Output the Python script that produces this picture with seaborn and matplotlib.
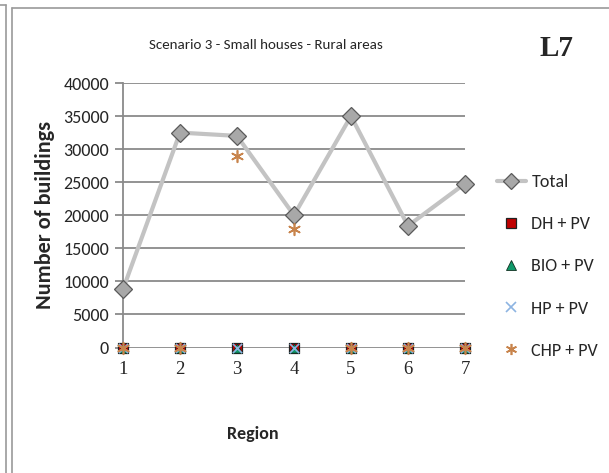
import matplotlib
matplotlib.use("Agg")
import matplotlib.pyplot as plt
from matplotlib.lines import Line2D
import pandas as pd
import seaborn as sns

regions = [1, 2, 3, 4, 5, 6, 7]
total = [8800, 32500, 32000, 20000, 35000, 18400, 24800]
dh_pv = [0, 0, 0, 0, 0, 0, 0]
bio_pv = [0, 0, 0, 0, 0, 0, 0]
hp_pv = [0, 0, 0, 0, 0, 0, 0]
chp_pv = [0, 0, 29000, 17900, 0, 0, 0]
y_ticks = [0, 5000, 10000, 15000, 20000, 25000, 30000, 35000, 40000]

series_names = ["Total", "DH + PV", "BIO + PV", "HP + PV", "CHP + PV"]
df = pd.DataFrame({
    "Region": regions * 5,
    "Buildings": total + dh_pv + bio_pv + hp_pv + chp_pv,
    "Series": sum([[s] * len(regions) for s in series_names], []),
})

sns.set_theme(style="white")
sans = ["Carlito", "Liberation Sans", "DejaVu Sans"]
serif = ["Liberation Serif", "DejaVu Serif"]
plt.rcParams["font.family"] = sans

fig = plt.figure(figsize=(6.09, 4.73), dpi=100)
W, H = 609, 473
ax = fig.add_axes([123 / W, 1 - 347.5 / H, (465 - 123) / W, (347.5 - 83) / H])

grid_c = "#8a8a8a"
tot = df[df.Series == "Total"]
sns.lineplot(data=tot, x="Region", y="Buildings", ax=ax, color="#c3c3c3",
             lw=3.0, marker="D", markersize=9.5, markerfacecolor="#a8a8a8",
             markeredgecolor="#5a5a5a", markeredgewidth=0.9, clip_on=False,
             zorder=4, legend=False)

chp_marker = (6, 2, 0)
styles = {
    "DH + PV": dict(marker="s", s=55, color="#c00000", edgecolor="#202020", linewidth=0.9),
    "BIO + PV": dict(marker="^", s=45, color="#10996a", edgecolor="#103020", linewidth=0.6),
    "HP + PV": dict(marker="x", s=45, color="#8db4e2", linewidth=1.2),
    "CHP + PV": dict(marker=chp_marker, s=70, color="#c8844c", linewidth=1.2),
}
for name, st in styles.items():
    sub = df[df.Series == name]
    sns.scatterplot(data=sub, x="Region", y="Buildings", ax=ax, clip_on=False,
                    zorder=5, legend=False, **st)

ax.set_xlim(1, 7)
ax.set_ylim(0, 40000)
ax.set_yticks(y_ticks)
ax.set_yticklabels([str(v) for v in y_ticks], fontsize=13, family=sans)
ax.set_xticks(regions)
ax.set_xticklabels([str(r) for r in regions], fontsize=13.5, family=serif)
ax.yaxis.grid(True, color=grid_c, lw=1.3)
ax.xaxis.grid(False)
for side in ["top", "right", "bottom"]:
    ax.spines[side].set_visible(False)
ax.spines["left"].set_color(grid_c)
ax.spines["left"].set_linewidth(1.3)
ax.tick_params(axis="y", length=6, width=1.3, color=grid_c, pad=4, left=True)
ax.tick_params(axis="x", length=0, pad=10)
ax.set_xlabel("Region", fontsize=13, fontweight="bold")
ax.xaxis.set_label_coords((253 - 123) / (465 - 123), -78 / (347.5 - 83))
ax.set_ylabel("Number of buildings", fontsize=16, fontweight="bold", labelpad=6)

fig.text(266 / W, 1 - 45 / H, "Scenario 3 - Small houses - Rural areas",
         ha="center", va="center", fontsize=10.8)
fig.text(557 / W, 1 - 48 / H, "L7", ha="center", va="center", fontsize=21,
         fontweight="bold", family=serif)

handles = [
    Line2D([], [], color="#c3c3c3", lw=3.0, marker="D", markersize=8,
           markerfacecolor="#a8a8a8", markeredgecolor="#5a5a5a", markeredgewidth=0.9),
    Line2D([], [], ls="", marker="s", markersize=7, markerfacecolor="#c00000",
           markeredgecolor="#202020", markeredgewidth=0.9),
    Line2D([], [], ls="", marker="^", markersize=7, markerfacecolor="#10996a",
           markeredgecolor="#103020", markeredgewidth=0.6),
    Line2D([], [], ls="", marker="x", markersize=7, color="#8db4e2", markeredgewidth=1.2),
    Line2D([], [], ls="", marker=chp_marker, markersize=8, color="#c8844c",
           markeredgewidth=1.2),
]
fig.legend(handles, series_names, loc="upper left",
           bbox_to_anchor=(497 / W, 1 - 174 / H), frameon=False, fontsize=13,
           handlelength=1.6, handletextpad=0.3, labelspacing=1.45,
           borderaxespad=0, borderpad=0)

frame_c = "#9a9a9a"
fig.add_artist(Line2D([6 / W, 6 / W], [0, 1 - 5 / H], color=frame_c, lw=1.2,
                      transform=fig.transFigure))
fig.add_artist(Line2D([0, 6 / W], [1 - 5 / H, 1 - 5 / H], color=frame_c, lw=1.2,
                      transform=fig.transFigure))
fig.add_artist(Line2D([12 / W, 12 / W], [0, 1 - 8 / H], color=frame_c, lw=1.2,
                      transform=fig.transFigure))
fig.add_artist(Line2D([12 / W, 1], [1 - 8 / H, 1 - 8 / H], color=frame_c, lw=1.2,
                      transform=fig.transFigure))

fig.savefig("out.png", dpi=100, facecolor="white")
